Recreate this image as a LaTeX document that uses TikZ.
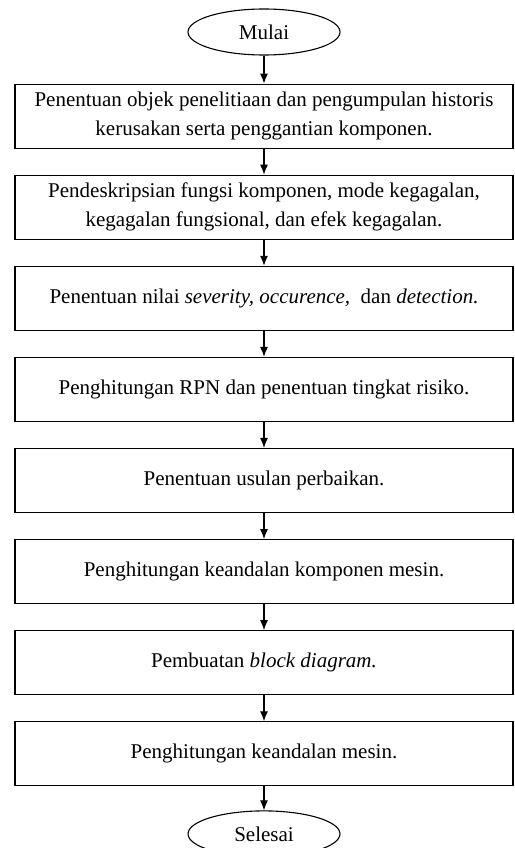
\documentclass[tikz,border=0pt]{standalone}
\usepackage{fontspec}
\setmainfont{Liberation Serif}
\usetikzlibrary{positioning}
\usetikzlibrary{shapes.geometric}
\usetikzlibrary{arrows.meta}
\newcommand{\widthstep}{498pt}
\newcommand{\heightstep}{64pt}
\newcommand{\widthend}{152pt}
\tikzset{
    common/.style={draw, line width=1.1pt, align=center, inner sep=0pt, font=\fontsize{21}{29}\selectfont},
    stepbox/.style={common, rectangle, minimum width=\widthstep, minimum height=\heightstep},
    terminal/.style={common, ellipse, minimum width=\widthend, minimum height=46pt},
    flow/.style={-{Latex[length=10pt, width=8pt]}, line width=1.1pt}
}
\begin{document}
\begin{tikzpicture}[x=1pt, y=1pt, node distance=26pt]
    \useasboundingbox (0,0) rectangle (514,-848);

    \node[terminal] (mulai) at (264,-32) {Mulai};
    \node[stepbox, below=28pt of mulai] (objek) {Penentuan objek penelitiaan dan pengumpulan historis\\kerusakan serta penggantian komponen.};
    \node[stepbox, below=of objek] (fungsi) {Pendeskripsian fungsi komponen, mode kegagalan,\\kegagalan fungsional, dan efek kegagalan.};
    \node[stepbox, below=of fungsi] (nilai) {Penentuan nilai \textit{severity, occurence,}\ \ dan \textit{detection.}};
    \node[stepbox, below=of nilai] (rpn) {Penghitungan RPN dan penentuan tingkat risiko.};
    \node[stepbox, below=of rpn] (usulan) {Penentuan usulan perbaikan.};
    \node[stepbox, below=of usulan] (komponen) {Penghitungan keandalan komponen mesin.};
    \node[stepbox, below=of komponen] (block) {Pembuatan \textit{block diagram.}};
    \node[stepbox, below=of block] (mesin) {Penghitungan keandalan mesin.};
    \node[terminal, below=24pt of mesin] (selesai) {Selesai};

    \draw[flow] (mulai) -- (objek);
    \draw[flow] (objek) -- (fungsi);
    \draw[flow] (fungsi) -- (nilai);
    \draw[flow] (nilai) -- (rpn);
    \draw[flow] (rpn) -- (usulan);
    \draw[flow] (usulan) -- (komponen);
    \draw[flow] (komponen) -- (block);
    \draw[flow] (block) -- (mesin);
    \draw[flow] (mesin) -- (selesai);
\end{tikzpicture}
\end{document}
